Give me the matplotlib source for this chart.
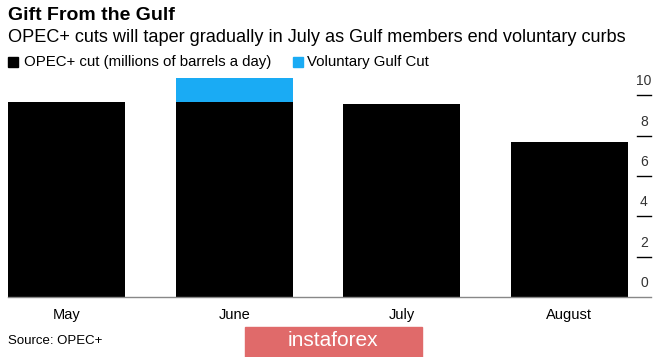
import matplotlib
matplotlib.use("Agg")
import matplotlib.pyplot as plt
from matplotlib.patches import Rectangle
import matplotlib.transforms as mtransforms

plt.rcParams['font.family'] = ['Liberation Sans', 'DejaVu Sans']

# data (millions of barrels a day)
months = ['May', 'June', 'July', 'August']
opec_cut = [9.7, 9.7, 9.6, 7.7]
gulf_cut = [0, 1.18, 0, 0]
yticks = [0, 2, 4, 6, 8, 10]

W, H = 665, 357
fig = plt.figure(figsize=(W / 100, H / 100), dpi=100)

# axes placed in pixel terms
left, right, base, top = 8, 651, 297, 75
ax = fig.add_axes([left / W, (H - base) / H, (right - left) / W, (base - top) / H])
ymax = (base - top) / 20.15
ax.set_ylim(0, ymax)
ax.set_xlim(-0.35, 3.487)

x = range(len(months))
ax.bar(x, opec_cut, width=0.7, color='black')
ax.bar(x, gulf_cut, width=0.7, bottom=opec_cut, color='#1aabf4')

for s in ['top', 'right', 'left']:
    ax.spines[s].set_visible(False)
ax.spines['bottom'].set_color('#888888')
ax.spines['bottom'].set_linewidth(1.0)
ax.set_yticks([])
ax.set_xticks(list(x))
ax.set_xticklabels(months, fontsize=10.5)
ax.tick_params(axis='x', length=0, pad=8)

# right side tick labels with dashes
trans = mtransforms.blended_transform_factory(ax.transAxes, ax.transData)
x0 = (637 - left) / (right - left)
for v in yticks:
    if v > 0:
        ax.plot([x0, 1.0], [v, v], color='black', lw=1.0, transform=trans, clip_on=False)
    ax.text((x0 + 1.0) / 2, v + 0.35, str(v), transform=trans, ha='center', va='bottom',
            fontsize=10, color='#333333')

# titles
fig.text(8 / W, 1 - 15 / H, 'Gift From the Gulf', fontsize=14, fontweight='bold', va='center')
fig.text(8 / W, 1 - 37 / H,
         'OPEC+ cuts will taper gradually in July as Gulf members end voluntary curbs',
         fontsize=13.1, va='center')

# legend
fig.patches.append(Rectangle((8 / W, 1 - 67 / H), 10 / W, 10 / H, transform=fig.transFigure,
                             color='black'))
fig.text(24 / W, 1 - 62 / H, 'OPEC+ cut (millions of barrels a day)', fontsize=10.8, va='center')
fig.patches.append(Rectangle((293 / W, 1 - 67 / H), 10 / W, 10 / H, transform=fig.transFigure,
                             color='#1aabf4'))
fig.text(307 / W, 1 - 62 / H, 'Voluntary Gulf Cut', fontsize=10.8, va='center')

fig.text(8 / W, 1 - 341 / H, 'Source: OPEC+', fontsize=9.5, va='center')

# watermark
fig.patches.append(Rectangle((245 / W, 1 - 357 / H), 177 / W, 30 / H, transform=fig.transFigure,
                             color='#e06a6a'))
fig.text(333 / W, 1 - 341 / H, 'instaforex', fontsize=15, color='white', ha='center',
         va='center')

fig.savefig('out.png', dpi=100)
